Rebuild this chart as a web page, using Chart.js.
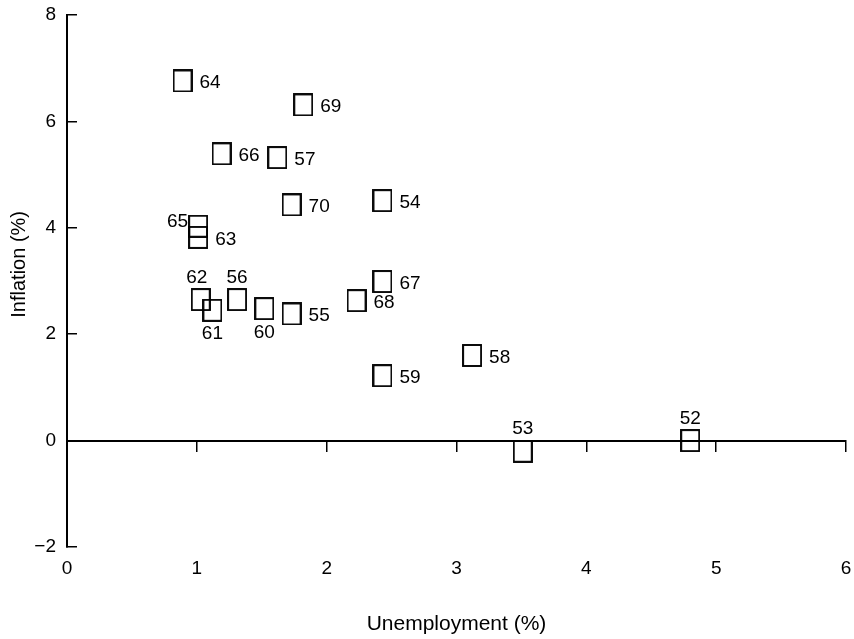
<!DOCTYPE html>
<html>
<head>
<meta charset="utf-8">
<script src="https://cdn.jsdelivr.net/npm/chart.js@4/dist/chart.umd.min.js"></script>
<style>
  body { margin: 0; background: #fff; }
</style>
</head>
<body>
<canvas id="myChart" width="854" height="639"></canvas>
<script>
// year labels, unemployment (%) and inflation (%)
var years = ["52", "53", "54", "55", "56", "57", "58", "59", "60", "61",
             "62", "63", "64", "65", "66", "67", "68", "69", "70"];
var unemployment = [4.80, 3.51, 2.43, 1.73, 1.31, 1.62, 3.12, 2.43, 1.52, 1.12,
                    1.03, 1.01, 0.89, 1.01, 1.19, 2.43, 2.23, 1.82, 1.73];
var inflation = [0.0, -0.20, 4.51, 2.38, 2.65, 5.32, 1.60, 1.22, 2.48, 2.45,
                 2.65, 3.82, 6.76, 4.03, 5.39, 2.99, 2.63, 6.31, 4.43];
var xTicks = [0, 1, 2, 3, 4, 5, 6];
var yTicks = [-2, 0, 2, 4, 6, 8];

var FONT = "'Liberation Sans', Arial, Helvetica, sans-serif";

var points = [];
for (var i = 0; i < years.length; i++) {
  points.push({ x: unemployment[i], y: inflation[i] });
}

// open box marker, a bit taller than wide
var box = document.createElement("canvas");
box.width = 20;
box.height = 23;
var bctx = box.getContext("2d");
bctx.strokeStyle = "#000";
bctx.lineWidth = 1.9;
bctx.strokeRect(1, 1, 18, 21);

// where each year label sits against its box
var labelSide = { "52": "above", "53": "above", "56": "above", "62": "above",
                  "60": "below", "61": "below", "65": "left" };

var yearLabels = {
  id: "yearLabels",
  afterDatasetsDraw(chart) {
    var ctx = chart.ctx;
    var meta = chart.getDatasetMeta(0);
    ctx.save();
    ctx.fillStyle = "#000";
    ctx.font = "19px " + FONT;
    ctx.textBaseline = "middle";
    meta.data.forEach(function (pt, i) {
      var side = labelSide[years[i]] || "right";
      if (side === "above") {
        ctx.textAlign = "center";
        ctx.fillText(years[i], pt.x + (years[i] === "62" ? -4 : 0), pt.y - 22);
      } else if (side === "below") {
        ctx.textAlign = "center";
        ctx.fillText(years[i], pt.x, pt.y + 24);
      } else if (side === "left") {
        ctx.textAlign = "right";
        ctx.fillText(years[i], pt.x - 10, pt.y - 4);
      } else {
        ctx.textAlign = "left";
        ctx.fillText(years[i], pt.x + 17, pt.y + 2);
      }
    });
    ctx.restore();
  }
};

new Chart("myChart", {
  type: "scatter",
  data: {
    datasets: [{
      data: points,
      pointStyle: box,
      pointRadius: 10,
      pointHoverRadius: 10
    }]
  },
  plugins: [yearLabels],
  options: {
    responsive: false,
    devicePixelRatio: 1,
    animation: false,
    events: [],
    layout: { autoPadding: false, padding: { top: 15, right: 8, left: 0, bottom: 0 } },
    plugins: {
      legend: { display: false },
      tooltip: { enabled: false }
    },
    scales: {
      x: {
        type: "linear",
        position: "bottom",
        min: 0,
        max: 6,
        afterBuildTicks: function (s) { s.ticks = xTicks.map(function (v) { return { value: v }; }); },
        afterFit: function (s) { s.height = 92; s.paddingLeft = 0; s.paddingRight = 0; },
        grid: { display: false, drawTicks: false },
        border: { display: false },
        ticks: { color: "#000", font: { family: FONT, size: 19 }, padding: 10 },
        title: {
          display: true,
          text: "Unemployment (%)",
          color: "#000",
          font: { family: FONT, size: 21 },
          padding: { top: 0, bottom: 2 }
        }
      },
      x0: {
        type: "linear",
        axis: "x",
        position: { y: 0 },
        min: 0,
        max: 6,
        afterBuildTicks: function (s) { s.ticks = xTicks.map(function (v) { return { value: v }; }); },
        grid: { drawOnChartArea: false, drawTicks: true, tickLength: 10, color: "#000", lineWidth: 1.5 },
        border: { display: true, color: "#000", width: 2 },
        ticks: { display: false }
      },
      y: {
        type: "linear",
        position: "left",
        min: -2,
        max: 8,
        afterBuildTicks: function (s) { s.ticks = yTicks.map(function (v) { return { value: v }; }); },
        afterFit: function (s) { s.width = 67; s.paddingTop = 0; s.paddingBottom = 0; },
        grid: { drawOnChartArea: false, drawTicks: true, tickLength: -10, color: "#000", lineWidth: 1.5 },
        border: { display: true, color: "#000", width: 2 },
        ticks: {
          color: "#000",
          font: { family: FONT, size: 19 },
          padding: 21,
          callback: function (v) { return v < 0 ? "\u2212" + Math.abs(v) : v; }
        },
        title: {
          display: true,
          text: "      Inflation (%)",
          color: "#000",
          font: { family: FONT, size: 20 },
          padding: { top: 7, bottom: 0 }
        }
      }
    }
  }
});
</script>
</body>
</html>
